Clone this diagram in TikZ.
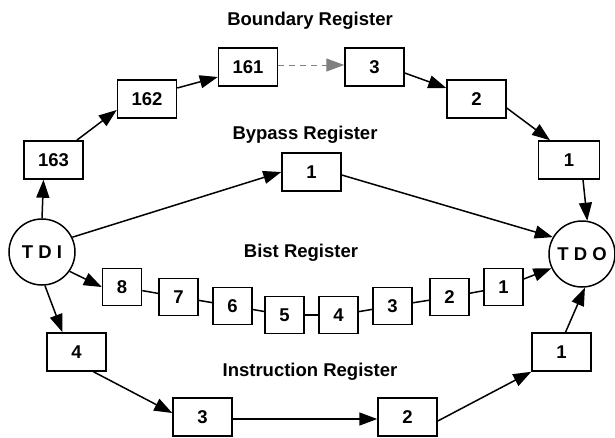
\documentclass[tikz,border=0pt]{standalone}
\usepackage{fontspec}
\setmainfont{Liberation Sans}
\usetikzlibrary{arrows.meta}
\begin{document}
\begin{tikzpicture}[x=1pt,y=-1pt,
  font=\fontsize{18.5}{20}\selectfont\bfseries,
  reg/.style={draw,line width=1.5pt,minimum width=59pt,minimum height=38pt,inner sep=0pt},
  bit/.style={draw,line width=1.5pt,minimum width=39pt,minimum height=37pt,inner sep=0pt},
  port/.style={draw,circle,line width=1.5pt,minimum size=66pt,inner sep=0pt},
  arr/.style={line width=1.5pt,-{Triangle[length=18pt,width=13pt]}},
  lnk/.style={line width=1.5pt},
  dsh/.style={line width=1pt,gray,dash pattern=on 6pt off 5pt,-{Triangle[length=18pt,width=13pt]}},
  lbl/.style={inner sep=0pt}]
\useasboundingbox (0,0) rectangle (615,437);
% ports
\node[port] (tdi) at (42,252) {T D I};
\node[port] (tdo) at (582,254) {T D O};
% boundary register
\node[reg] (b163) at (53.5,160) {163};
\node[reg] (b162) at (147,99) {162};
\node[reg] (b161) at (248,67) {161};
\node[reg] (b3) at (374.5,67) {3};
\node[reg] (b2) at (476.5,99) {2};
\node[reg,minimum width=61pt] (b1) at (569,160) {1};
% bypass
\node[reg] (by1) at (311.5,172) {1};
% bist
\node[bit] (c8) at (122,287) {8};
\node[bit] (c7) at (178.5,297) {7};
\node[bit] (c6) at (232.5,306) {6};
\node[bit] (c5) at (284.5,315) {5};
\node[bit] (c4) at (338.5,315) {4};
\node[bit] (c3) at (392.5,306) {3};
\node[bit] (c2) at (449.5,297) {2};
\node[bit] (c1) at (503.5,287) {1};
% instruction
\node[reg] (i4) at (76.5,352) {4};
\node[reg] (i3) at (202.5,417) {3};
\node[reg] (i2) at (407.5,417) {2};
\node[reg] (i1) at (561.5,352) {1};
% labels
\node[lbl] (lb) at (310,21) {Boundary Register};
\node[lbl] (lby) at (305,135) {Bypass Register};
\node[lbl] (lbi) at (301,253) {Bist Register};
\node[lbl] (lin) at (310,372) {Instruction Register};
% boundary connectors
\draw[arr] (tdi.north) -- ([xshift=-10pt]b163.south);
\draw[arr] ([xshift=-7pt]b163.north east) -- ([yshift=-11pt]b162.west);
\draw[arr] ([yshift=11pt]b162.east) -- ([yshift=-10pt]b161.west);
\draw[dsh] ([yshift=2pt]b161.east) -- ([yshift=2pt]b3.west);
\draw[arr] ([yshift=-6pt]b3.east) -- ([yshift=11pt]b2.west);
\draw[arr] ([yshift=-9pt]b2.east) -- ([xshift=-19pt]b1.north);
\draw[arr] ([xshift=14pt]b1.south) -- (tdo.81);
% bypass
\draw[arr] (tdi.26) -- (by1.west);
\draw[arr] ([yshift=-3pt]by1.east) -- (tdo.150);
% bist
\draw[arr] (tdi.-35) -- (c8.west);
\draw[lnk] (c8) -- (c7);
\draw[lnk] (c7) -- (c6);
\draw[lnk] (c6) -- (c5);
\draw[lnk] (c5) -- (c4);
\draw[lnk] (c4) -- (c3);
\draw[lnk] (c3) -- (c2);
\draw[lnk] (c2) -- (c1);
\draw[arr] ([yshift=8pt]c1.east) -- (tdo.205);
% instruction
\draw[arr] (tdi.-85) -- ([xshift=-14pt]i4.north);
\draw[arr] ([xshift=17pt]i4.south) -- ([yshift=4pt]i3.west);
\draw[arr] ([yshift=-2pt]i3.east) -- ([yshift=-2pt]i2.west);
\draw[arr] ([yshift=-4pt]i2.east) -- (i1.south west);
\draw[arr] ([xshift=4pt]i1.north) -- (tdo.-85);
\end{tikzpicture}
\end{document}
